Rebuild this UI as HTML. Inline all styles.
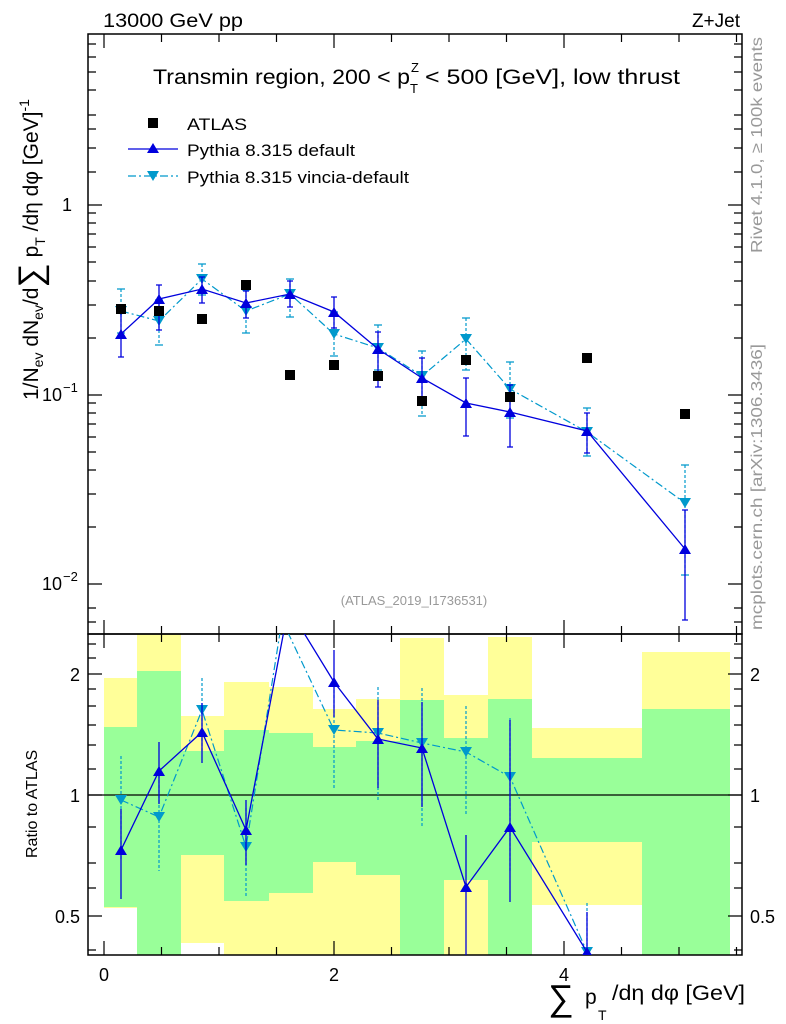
<!DOCTYPE html>
<html><head><meta charset="utf-8"><style>
body{margin:0;background:#fff}
svg{display:block;font-family:"Liberation Sans",sans-serif}
</style></head><body>
<svg width="786" height="1024" viewBox="0 0 786 1024">
<g stroke="none">
<rect x="104" y="678" width="33" height="230" fill="#ffff99"/><rect x="104" y="727" width="33" height="180" fill="#99ff99"/>
<rect x="137" y="634" width="44" height="321" fill="#ffff99"/><rect x="137" y="671" width="44" height="284" fill="#99ff99"/>
<rect x="181" y="716" width="43" height="227" fill="#ffff99"/><rect x="181" y="751" width="43" height="104" fill="#99ff99"/>
<rect x="224" y="682" width="45" height="273" fill="#ffff99"/><rect x="224" y="730" width="45" height="171" fill="#99ff99"/>
<rect x="269" y="687" width="44" height="268" fill="#ffff99"/><rect x="269" y="733" width="44" height="160" fill="#99ff99"/>
<rect x="313" y="709" width="43" height="246" fill="#ffff99"/><rect x="313" y="747" width="43" height="115" fill="#99ff99"/>
<rect x="356" y="699" width="44" height="256" fill="#ffff99"/><rect x="356" y="741" width="44" height="134" fill="#99ff99"/>
<rect x="400" y="638" width="44" height="317" fill="#ffff99"/><rect x="400" y="700" width="44" height="255" fill="#99ff99"/>
<rect x="444" y="695" width="44" height="260" fill="#ffff99"/><rect x="444" y="738" width="44" height="142" fill="#99ff99"/>
<rect x="488" y="637" width="44" height="318" fill="#ffff99"/><rect x="488" y="699" width="44" height="256" fill="#99ff99"/>
<rect x="532" y="728" width="110" height="177" fill="#ffff99"/><rect x="532" y="758" width="110" height="84" fill="#99ff99"/>
<rect x="642" y="652" width="88" height="303" fill="#ffff99"/><rect x="642" y="709" width="88" height="246" fill="#99ff99"/>
</g>
<line x1="88" y1="795" x2="742" y2="795" stroke="#000" stroke-width="1.3"/>

<rect x="88" y="34" width="654" height="600" fill="none" stroke="#000" stroke-width="1.5"/>
<rect x="88" y="634" width="654" height="321" fill="none" stroke="#000" stroke-width="1.5"/>

<g stroke="#000" stroke-width="1.2">
<path d="M104 34v14M161.5 34v8M219 34v8M276.5 34v8M334 34v14M391.5 34v8M449 34v8M506.5 34v8M564 34v14M621.5 34v8M679 34v8M736.5 34v8"/>
<path d="M104 634v-14M161.5 634v-8M219 634v-8M276.5 634v-8M334 634v-14M391.5 634v-8M449 634v-8M506.5 634v-8M564 634v-14M621.5 634v-8M679 634v-8M736.5 634v-8"/>
<path d="M104 634v14M161.5 634v8M219 634v8M276.5 634v8M334 634v14M391.5 634v8M449 634v8M506.5 634v8M564 634v14M621.5 634v8M679 634v8M736.5 634v8"/>
<path d="M104 955v-14M161.5 955v-8M219 955v-8M276.5 955v-8M334 955v-14M391.5 955v-8M449 955v-8M506.5 955v-8M564 955v-14M621.5 955v-8M679 955v-8M736.5 955v-8"/>
<path d="M88 205h14M88 395h14M88 584h14M742 205h-14M742 395h-14M742 584h-14"/>
<path d="M88 115h8M88 148h8M88 172h8M88 129h8M88 90h8M88 72h8M88 57h8M88 44h8
M88 338h8M88 305h8M88 281h8M88 262h8M88 247h8M88 234h8M88 223h8M88 213h8
M88 527h8M88 494h8M88 470h8M88 452h8M88 437h8M88 424h8M88 413h8M88 403h8
M88 622h8M88 608h8"/>
<path d="M742 115h-8M742 148h-8M742 172h-8M742 129h-8M742 90h-8M742 72h-8M742 57h-8M742 44h-8
M742 338h-8M742 305h-8M742 281h-8M742 262h-8M742 247h-8M742 234h-8M742 223h-8M742 213h-8
M742 527h-8M742 494h-8M742 470h-8M742 452h-8M742 437h-8M742 424h-8M742 413h-8M742 403h-8
M742 622h-8M742 608h-8"/>
<path d="M88 674h14M88 795h14M88 916h14M742 674h-14M742 795h-14M742 916h-14"/>
<path d="M88 644h8M88 658h8M88 689h8M88 706h8M88 725h8M88 745h8M88 769h8M88 827h8M88 863h8M88 888h8M88 950h8"/>
<path d="M742 644h-8M742 658h-8M742 689h-8M742 706h-8M742 725h-8M742 745h-8M742 769h-8M742 827h-8M742 863h-8M742 888h-8M742 950h-8"/>
</g>

<g stroke="#0099cc" fill="#0099cc" stroke-width="1.2">
<polyline fill="none" stroke-dasharray="8,3,2,3" points="121,311 159,321 202,279 246,311 290,294 334,334 378,348 422,376 466,339 510,389 587,432 685,503"/>
<path stroke-dasharray="3,2" d="M121 289V333M159 300V345M202 264V295M246 290V333M290 279V317M334 312V356M378 325V370M422 351V416M466 318V370M510 362V418M587 408V456M685 465V575"/>
<path d="M117 289h8M117 333h8M155 300h8M155 345h8M198 264h8M198 295h8M242 290h8M242 333h8M286 279h8M286 317h8M330 312h8M330 356h8M374 325h8M374 370h8M418 351h8M418 416h8M462 318h8M462 370h8M506 362h8M506 418h8M583 408h8M583 456h8M681 465h8M681 575h8"/>
<g stroke="none">
<path d="M115 306h12l-6 10z"/><path d="M153 316h12l-6 10z"/><path d="M196 274h12l-6 10z"/><path d="M240 306h12l-6 10z"/><path d="M284 289h12l-6 10z"/><path d="M328 329h12l-6 10z"/><path d="M372 343h12l-6 10z"/><path d="M416 371h12l-6 10z"/><path d="M460 334h12l-6 10z"/><path d="M504 384h12l-6 10z"/><path d="M581 427h12l-6 10z"/><path d="M679 498h12l-6 10z"/>
</g></g>
<g stroke="#0000dd" fill="#0000dd" stroke-width="1.3">
<polyline fill="none" points="121,334 159,299 202,289 246,303 290,294 334,312 378,349 422,378 466,403 510,412 587,431 685,549"/>
<path d="M121 306V357M159 285V330M202 277V303M246 291V318M290 281V307M334 297V328M378 332V387M422 358V400M466 378V436M510 385V447M587 413V453M685 510V620"/>
<path d="M118 306h6M118 357h6M156 285h6M156 330h6M199 277h6M199 303h6M243 291h6M243 318h6M287 281h6M287 307h6M331 297h6M331 328h6M375 332h6M375 387h6M419 358h6M419 400h6M463 378h6M463 436h6M507 385h6M507 447h6M584 413h6M584 453h6M682 510h6M682 620h6"/>
<g stroke="none">
<path d="M115 339h12l-6-10z"/><path d="M153 304h12l-6-10z"/><path d="M196 294h12l-6-10z"/><path d="M240 308h12l-6-10z"/><path d="M284 299h12l-6-10z"/><path d="M328 317h12l-6-10z"/><path d="M372 354h12l-6-10z"/><path d="M416 383h12l-6-10z"/><path d="M460 408h12l-6-10z"/><path d="M504 417h12l-6-10z"/><path d="M581 436h12l-6-10z"/><path d="M679 554h12l-6-10z"/>
</g></g>
<g fill="#000">
<rect x="116" y="304" width="10" height="10"/><rect x="154" y="306" width="10" height="10"/><rect x="197" y="314" width="10" height="10"/><rect x="241" y="280" width="10" height="10"/><rect x="285" y="370" width="10" height="10"/><rect x="329" y="360" width="10" height="10"/><rect x="373" y="371" width="10" height="10"/><rect x="417" y="396" width="10" height="10"/><rect x="461" y="355" width="10" height="10"/><rect x="505" y="392" width="10" height="10"/><rect x="582" y="353" width="10" height="10"/><rect x="680" y="409" width="10" height="10"/>
</g>

<svg x="88" y="634" width="654" height="321" viewBox="88 634 654 321" overflow="hidden">
<g stroke="#0099cc" fill="#0099cc" stroke-width="1.2">
<polyline fill="none" stroke-dasharray="8,3,2,3" points="121,800 159,817 202,710 246,847 282,620 334,730 378,733 422,743 466,752 510,777 587,952"/>
<path stroke-dasharray="3,2" d="M121 756V860M159 770V871M202 678V752M246 808V898M334 690V790M378 687V801M422 688V827M466 706V815M510 718V872M587 903V960"/>
<g stroke="none">
<path d="M115 795h12l-6 10z"/><path d="M153 812h12l-6 10z"/><path d="M196 705h12l-6 10z"/><path d="M240 842h12l-6 10z"/><path d="M328 725h12l-6 10z"/><path d="M372 728h12l-6 10z"/><path d="M416 738h12l-6 10z"/><path d="M460 747h12l-6 10z"/><path d="M504 772h12l-6 10z"/><path d="M581 947h12l-6 10z"/>
</g></g>
<g stroke="#0000dd" fill="#0000dd" stroke-width="1.3">
<polyline fill="none" points="121,850 159,771 202,732 246,830 286,620 296,620 334,682 378,739 422,748 466,887 510,827 587,952"/>
<path d="M121 809V899M159 742V804M202 703V763M246 800V865M334 650V717M378 700V788M422 702V807M466 835V960M510 720V902M587 912V960"/>
<g stroke="none">
<path d="M115 855h12l-6-10z"/><path d="M153 776h12l-6-10z"/><path d="M196 737h12l-6-10z"/><path d="M240 835h12l-6-10z"/><path d="M328 687h12l-6-10z"/><path d="M372 744h12l-6-10z"/><path d="M416 753h12l-6-10z"/><path d="M460 892h12l-6-10z"/><path d="M504 832h12l-6-10z"/><path d="M581 957h12l-6-10z"/>
</g></g>
</svg>

<g font-size="18" fill="#000">
<text x="103" y="27" font-size="19" textLength="140" lengthAdjust="spacingAndGlyphs">13000 GeV pp</text>
<text x="740" y="27" text-anchor="end" font-size="19">Z+Jet</text>
<text x="153" y="84" font-size="21" textLength="257" lengthAdjust="spacingAndGlyphs">Transmin region, 200 &lt; p</text>
<text x="411" y="72" font-size="13">Z</text><text x="410" y="93" font-size="13">T</text>
<text x="425" y="84" font-size="21" textLength="255" lengthAdjust="spacingAndGlyphs">&lt; 500 [GeV], low thrust</text>
<text x="72" y="211" text-anchor="end">1</text>
<text x="62" y="401" text-anchor="end">10</text><text x="63" y="392" font-size="13">−1</text>
<text x="62" y="590" text-anchor="end">10</text><text x="63" y="581" font-size="13">−2</text>
<text x="80" y="681" text-anchor="end">2</text><text x="80" y="802" text-anchor="end">1</text><text x="80" y="923" text-anchor="end">0.5</text>
<text x="750" y="681">2</text><text x="750" y="802">1</text><text x="750" y="923">0.5</text>
<text x="104" y="981" text-anchor="middle">0</text><text x="334" y="981" text-anchor="middle">2</text><text x="564" y="981" text-anchor="middle">4</text>
</g>
<g font-size="17">
<rect x="148" y="118" width="10" height="10"/>
<text x="187" y="130" textLength="60" lengthAdjust="spacingAndGlyphs">ATLAS</text>
<line x1="128" y1="149" x2="178" y2="149" stroke="#0000dd" stroke-width="1.3"/><path d="M147 153h12l-6-10z" fill="#0000dd"/>
<text x="187" y="156" textLength="168" lengthAdjust="spacingAndGlyphs">Pythia 8.315 default</text>
<line x1="128" y1="176" x2="178" y2="176" stroke="#0099cc" stroke-width="1.2" stroke-dasharray="8,3,2,3"/><path d="M147 171h12l-6 10z" fill="#0099cc"/>
<text x="187" y="183" textLength="222" lengthAdjust="spacingAndGlyphs">Pythia 8.315 vincia-default</text>
</g>
<text x="414" y="605" font-size="13" fill="#999" text-anchor="middle">(ATLAS_2019_I1736531)</text>
<text transform="translate(762,253) rotate(-90)" font-size="16" fill="#999" textLength="216" lengthAdjust="spacingAndGlyphs">Rivet 4.1.0, ≥ 100k events</text>
<text transform="translate(762,630) rotate(-90)" font-size="16" fill="#999" textLength="286" lengthAdjust="spacingAndGlyphs">mcplots.cern.ch [arXiv:1306.3436]</text>
<text transform="translate(38,400) rotate(-90)" font-size="21">1/N<tspan font-size="14" dy="5">ev</tspan><tspan dy="-5"> dN</tspan><tspan font-size="14" dy="5">ev</tspan><tspan dy="-5">/d</tspan><tspan font-size="34" dy="4">∑</tspan><tspan dy="-4"> p</tspan><tspan font-size="14" dy="7">T</tspan><tspan dy="-7"> /dη dφ  [GeV]</tspan><tspan font-size="14" dy="-9">-1</tspan></text>
<text transform="translate(37,858) rotate(-90)" font-size="16">Ratio to ATLAS</text>
<text x="548" y="1010" font-size="36">∑</text>
<text x="585" y="1004" font-size="21">p</text><text x="598" y="1020" font-size="14">T</text>
<text x="612" y="1000" font-size="21" textLength="133" lengthAdjust="spacingAndGlyphs">/dη dφ [GeV]</text>
</svg>
</body></html>
